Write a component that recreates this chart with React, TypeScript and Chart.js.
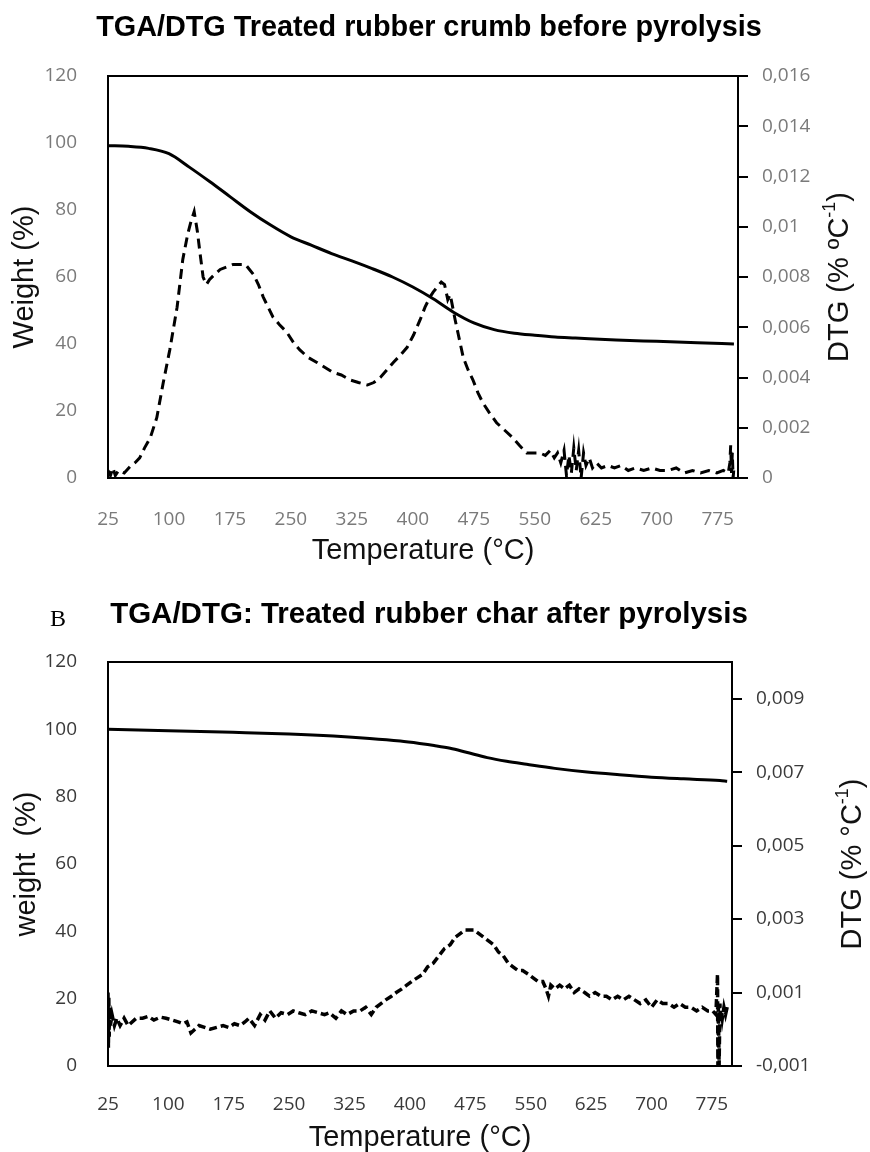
import React, { useEffect, useRef } from "react";
import { Chart, registerables } from "chart.js";

Chart.register(...registerables);

// ---------- Shared tick labels ----------
const xTickValues = [25, 100, 175, 250, 325, 400, 475, 550, 625, 700, 775];
const topRightTicks = [0, 0.002, 0.004, 0.006, 0.008, 0.01, 0.012, 0.014, 0.016];
const bottomRightTicks = [-0.001, 0.001, 0.003, 0.005, 0.007, 0.009];

// ---------- Chart A: treated rubber crumb before pyrolysis ----------
const topTgaTemp = [25, 50, 75, 100, 125, 150, 175, 200, 225, 250, 275, 300, 325, 350, 375, 400, 425, 450, 475, 500, 525, 550, 575, 600, 650, 700, 750, 795];
const topTgaWeight = [99.2, 99.0, 98.4, 96.8, 92.8, 88.5, 84.0, 79.5, 75.5, 72.0, 69.5, 67.0, 64.8, 62.5, 60.0, 57.0, 53.5, 49.5, 46.3, 44.3, 43.2, 42.6, 42.1, 41.8, 41.2, 40.8, 40.4, 40.0];

const topDtgTemp = [25, 28, 31, 34, 38, 45, 52, 58, 64, 70, 77, 85, 93, 101, 110, 117, 123, 127, 131, 135, 138, 142, 146, 150, 156, 163, 171, 179, 187, 194, 199, 204, 210, 216, 222, 228, 236, 245, 253, 261, 271, 282, 292, 302, 312, 323, 333, 344, 352, 360, 368, 376, 385, 393, 401, 409, 415, 421, 425, 430, 435, 439, 443, 446, 449, 452, 456, 462, 468, 474, 480, 486, 494, 503, 513, 523, 531, 540, 548, 556, 563, 569, 574, 578, 582, 586, 589, 592, 595, 598, 601, 604, 607, 610, 613, 617, 621, 626, 632, 640, 648, 656, 665, 674, 684, 694, 704, 714, 724, 734, 744, 754, 764, 774, 782, 788, 790, 791, 792, 793, 794, 795];
const topDtgRate = [0.0003, 0.0001, 0.0004, 0.0001, 0.0003, 0.0002, 0.00045, 0.0006, 0.0008, 0.0012, 0.0016, 0.0024, 0.0038, 0.0051, 0.0068, 0.0087, 0.0097, 0.0102, 0.0106, 0.0098, 0.009, 0.008, 0.0077, 0.0079, 0.0081, 0.0083, 0.0084, 0.0085, 0.0085, 0.0085, 0.0083, 0.0081, 0.0077, 0.0072, 0.0068, 0.0064, 0.0061, 0.0058, 0.0054, 0.0051, 0.0048, 0.0046, 0.0044, 0.0042, 0.0041, 0.0039, 0.0038, 0.0037, 0.0038, 0.004, 0.0043, 0.0046, 0.0049, 0.0052, 0.0057, 0.0063, 0.0068, 0.0072, 0.0074, 0.0076, 0.0078, 0.0077, 0.0071, 0.0073, 0.0068, 0.0063, 0.0057, 0.0048, 0.0043, 0.0039, 0.0034, 0.003, 0.0026, 0.0022, 0.0019, 0.0016, 0.0013, 0.001, 0.001, 0.001, 0.0009, 0.0011, 0.0008, 0.001, 0.0006, 0.0011, 0.0001, 0.0009, 0.0002, 0.0012, 0.0003, 0.0011, 0.0, 0.001, 0.0005, 0.0008, 0.0004, 0.0006, 0.0004, 0.0005, 0.0004, 0.0005, 0.0003, 0.0004, 0.0003, 0.0004, 0.0003, 0.0003, 0.0004, 0.0002, 0.0003, 0.0002, 0.0003, 0.0002, 0.0003, 0.0002, 0.0006, 0.0013, 0.0002, 0.001, 0.0, 0.0004];

// ---------- Chart B: treated rubber char after pyrolysis ----------
const botTgaTemp = [25, 100, 180, 250, 305, 350, 388, 412, 430, 450, 470, 496, 520, 545, 580, 620, 660, 700, 740, 785, 794];
const botTgaWeight = [100, 99.6, 99.1, 98.6, 98.0, 97.3, 96.5, 95.8, 95.2, 94.4, 93.2, 91.6, 90.5, 89.6, 88.4, 87.3, 86.5, 85.8, 85.3, 84.8, 84.6];

const botDtgTemp = [25, 25.5, 26, 26.5, 27, 28, 30, 33, 36, 40, 45, 50, 60, 68, 75, 82, 90, 97, 105, 112, 118, 123, 128, 133, 138, 145, 152, 160, 168, 175, 182, 189, 195, 200, 207, 214, 220, 226, 233, 240, 248, 255, 262, 270, 278, 286, 294, 300, 308, 315, 322, 330, 338, 345, 352, 358, 364, 370, 377, 383, 390, 396, 402, 409, 416, 422, 429, 436, 443, 450, 456, 462, 468, 474, 480, 486, 492, 498, 504, 510, 516, 522, 528, 534, 540, 547, 553, 559, 565, 569, 572, 575, 580, 586, 592, 598, 604, 610, 617, 623, 630, 637, 644, 651, 658, 665, 672, 679, 686, 693, 700, 707, 714, 721, 728, 735, 742, 749, 756, 763, 770, 776, 780, 782, 782.5, 783, 784, 785, 786, 787, 788, 790, 792, 794];
const botDtgRate = [0.001, -0.0005, 0.0009, -0.0002, 0.0006, 0.0001, 0.0004, 0.0001, 0.0003, 0.0001, 0.0003, 0.0001, 0.0003, 0.0003, 0.00035, 0.00025, 0.00033, 0.0003, 0.00025, 0.0002, 0.00015, 0.0002, -0.0001, 0.0, 0.0001, 0.00005, 0.0, 0.00005, 0.0001, 0.00005, 0.00015, 0.0001, 0.0002, 0.0003, 0.0001, 0.0004, 0.00025, 0.0005, 0.0003, 0.00045, 0.0004, 0.0005, 0.00045, 0.0004, 0.0005, 0.00045, 0.0004, 0.00045, 0.0003, 0.0005, 0.0004, 0.0005, 0.0005, 0.0006, 0.0004, 0.0006, 0.0007, 0.0008, 0.0009, 0.001, 0.0011, 0.0012, 0.0013, 0.0014, 0.0015, 0.0017, 0.0018, 0.002, 0.0022, 0.0023, 0.0025, 0.0026, 0.0027, 0.0027, 0.0027, 0.0026, 0.0025, 0.0024, 0.0023, 0.0021, 0.002, 0.0018, 0.0017, 0.0016, 0.0016, 0.0015, 0.0014, 0.0013, 0.0013, 0.0011, 0.0009, 0.0012, 0.0011, 0.0012, 0.0011, 0.0012, 0.001, 0.0011, 0.001, 0.0009, 0.001, 0.0009, 0.0009, 0.0008, 0.0009, 0.0008, 0.0009, 0.0008, 0.0007, 0.0008, 0.0006, 0.0008, 0.0007, 0.0007, 0.0006, 0.0007, 0.0006, 0.0006, 0.0005, 0.0006, 0.0005, 0.0005, 0.0004, 0.0015, -0.001, 0.0006, -0.001, 0.0007, 0.0002, 0.0005, 0.0003, 0.0006, 0.0004, 0.0006];

const SANS = '"Liberation Sans", Arial, sans-serif';
const TICKFONT = '"Open Sans", "Noto Sans", sans-serif';

const fmtComma = (v: number) => parseFloat(Number(v).toFixed(4)).toString().replace(".", ",");

const frameTopPlugin = {
  id: "frameTop",
  afterDraw(chart: any) {
    const { ctx, chartArea } = chart;
    ctx.save();
    ctx.strokeStyle = "#000";
    ctx.lineWidth = 2;
    ctx.beginPath();
    ctx.moveTo(chartArea.left - 1, chartArea.top);
    ctx.lineTo(chartArea.right + 1, chartArea.top);
    ctx.stroke();
    ctx.restore();
  },
};

const rightTitlePlugin = {
  id: "rightTitle",
  afterDraw(chart: any, _args: any, opts: any) {
    const { ctx, chartArea } = chart;
    const cy = (chartArea.top + chartArea.bottom) / 2;
    const mainFont = `${opts.size}px ${SANS}`;
    const supFont = `${Math.round(opts.size * 0.62)}px ${SANS}`;
    ctx.save();
    ctx.fillStyle = opts.color;
    ctx.textBaseline = "middle";
    ctx.font = mainFont;
    const w1 = ctx.measureText(opts.text).width;
    const w3 = ctx.measureText(opts.close).width;
    ctx.font = supFont;
    const w2 = ctx.measureText(opts.sup).width;
    const total = w1 + w2 + w3;
    ctx.translate(opts.x, cy);
    ctx.rotate(-Math.PI / 2);
    let x = -total / 2;
    ctx.textAlign = "left";
    ctx.font = mainFont;
    ctx.fillText(opts.text, x, 0);
    x += w1;
    ctx.font = supFont;
    ctx.fillText(opts.sup, x, -opts.size * 0.33);
    x += w2;
    ctx.font = mainFont;
    ctx.fillText(opts.close, x, 0);
    ctx.restore();
  },
};

type Cfg = {
  top: number;
  height: number;
  areaTop: number;
  xHeight: number;
  y2Width: number;
  tickColor: string;
  xTickPad: number;
  xTitlePad: number;
  yTitlePad: number;
  yTitle: string;
  y2Min: number;
  y2Max: number;
  y2Ticks: number[];
  y2Title: { text: string; sup: string; close: string; x: number };
  tgaT: number[];
  tgaW: number[];
  dtgT: number[];
  dtgR: number[];
  dtgWidth: number;
  dtgDash: number[];
};

function TgaChart({ cfg }: { cfg: Cfg }) {
  const ref = useRef<HTMLCanvasElement>(null);
  useEffect(() => {
    const tickFont = { family: TICKFONT, size: 19 };
    const titleFont = { family: SANS, size: 29, lineHeight: 1 };
    const chart = new Chart(ref.current!, {
      type: "line",
      data: {
        datasets: [
          {
            label: "TGA",
            data: cfg.tgaT.map((t, i) => ({ x: t, y: cfg.tgaW[i] })),
            yAxisID: "y",
            borderColor: "#000",
            borderWidth: 3,
            pointRadius: 0,
            cubicInterpolationMode: "monotone",
            fill: false,
          },
          {
            label: "DTG",
            data: cfg.dtgT.map((t, i) => ({ x: t, y: cfg.dtgR[i] })),
            yAxisID: "y2",
            borderColor: "#000",
            borderWidth: cfg.dtgWidth,
            borderDash: cfg.dtgDash,
            pointRadius: 0,
            tension: 0,
            fill: false,
          },
        ],
      },
      options: {
        animation: false,
        responsive: false,
        devicePixelRatio: 1,
        layout: { padding: { top: cfg.areaTop, left: 0, right: 0, bottom: 0 } },
        plugins: {
          legend: { display: false },
          tooltip: { enabled: false },
          rightTitle: { ...cfg.y2Title, size: 29, color: "#111" },
        } as any,
        scales: {
          x: {
            type: "linear",
            min: 25,
            max: 800,
            afterBuildTicks: (s: any) => {
              s.ticks = xTickValues.map((v) => ({ value: v }));
            },
            afterFit: (s: any) => {
              s.height = cfg.xHeight;
            },
            grid: { display: false },
            border: { display: true, color: "#000", width: 2 },
            ticks: { color: cfg.tickColor, font: tickFont, padding: cfg.xTickPad, maxRotation: 0, autoSkip: false },
            title: { display: true, text: "Temperature (°C)", color: "#111", font: titleFont, padding: { top: 0, bottom: cfg.xTitlePad } },
          },
          y: {
            position: "left",
            min: 0,
            max: 120,
            ticks: { stepSize: 20, color: cfg.tickColor, font: tickFont, padding: 23 },
            afterFit: (s: any) => {
              s.width = 108;
            },
            grid: { display: false },
            border: { display: true, color: "#000", width: 2 },
            title: { display: true, text: cfg.yTitle, color: "#111", font: titleFont, padding: { top: cfg.yTitlePad, bottom: 0 } },
          },
          y2: {
            position: "right",
            min: cfg.y2Min,
            max: cfg.y2Max,
            afterBuildTicks: (s: any) => {
              s.ticks = cfg.y2Ticks.map((v) => ({ value: v }));
            },
            afterFit: (s: any) => {
              s.width = cfg.y2Width;
            },
            grid: { display: true, drawOnChartArea: false, drawTicks: true, tickLength: 10, color: "#000", lineWidth: 2 },
            border: { display: true, color: "#000", width: 2 },
            ticks: { color: cfg.tickColor, font: tickFont, padding: 14, callback: (v: any) => fmtComma(v) },
          },
        },
      },
      plugins: [frameTopPlugin, rightTitlePlugin],
    } as any);
    return () => chart.destroy();
  }, []);
  return (
    <canvas
      ref={ref}
      width={870}
      height={cfg.height}
      style={{ position: "absolute", left: 0, top: cfg.top, width: 870, height: cfg.height }}
    />
  );
}

const topCfg: Cfg = {
  top: 0,
  height: 580,
  areaTop: 76,
  xHeight: 102,
  y2Width: 132,
  tickColor: "#7a7a7a",
  xTickPad: 22,
  xTitlePad: 15,
  yTitlePad: 10,
  yTitle: "Weight (%)",
  y2Min: 0,
  y2Max: 0.016,
  y2Ticks: topRightTicks,
  y2Title: { text: "DTG (% ºC", sup: "-1", close: ")", x: 840 },
  tgaT: topTgaTemp,
  tgaW: topTgaWeight,
  dtgT: topDtgTemp,
  dtgR: topDtgRate,
  dtgWidth: 3,
  dtgDash: [10, 6],
};

const botCfg: Cfg = {
  top: 580,
  height: 572,
  areaTop: 82,
  xHeight: 86,
  y2Width: 138,
  tickColor: "#3a3a3a",
  xTickPad: 19,
  xTitlePad: 0,
  yTitlePad: 12,
  yTitle: "weight  (%)",
  y2Min: -0.001,
  y2Max: 0.01,
  y2Ticks: bottomRightTicks,
  y2Title: { text: "DTG (% °C", sup: "-1", close: ")", x: 853 },
  tgaT: botTgaTemp,
  tgaW: botTgaWeight,
  dtgT: botDtgTemp,
  dtgR: botDtgRate,
  dtgWidth: 3.5,
  dtgDash: [8, 4],
};

const titleStyle: React.CSSProperties = {
  position: "absolute",
  left: 0,
  width: 858,
  textAlign: "center",
  fontFamily: '"Liberation Sans Narrow", "Arial Narrow", "Liberation Sans", sans-serif',
  fontWeight: "bold",
  color: "#000",
  whiteSpace: "nowrap",
};

export default function App() {
  return (
    <div style={{ position: "absolute", left: 0, top: 0, width: 870, height: 1152, background: "#fff", overflow: "hidden" }}>
      <TgaChart cfg={topCfg} />
      <TgaChart cfg={botCfg} />
      <div style={{ ...titleStyle, top: 12, fontSize: 28.8, lineHeight: "29px" }}>
        TGA/DTG Treated rubber crumb before pyrolysis
      </div>
      <div
        style={{
          position: "absolute",
          left: 50,
          top: 606,
          fontFamily: '"Liberation Serif", "Times New Roman", serif',
          fontSize: 24,
          lineHeight: "24px",
          color: "#000",
        }}
      >
        B
      </div>
      <div style={{ ...titleStyle, top: 598, fontSize: 29.5, lineHeight: "30px" }}>
        TGA/DTG: Treated rubber char after pyrolysis
      </div>
    </div>
  );
}
